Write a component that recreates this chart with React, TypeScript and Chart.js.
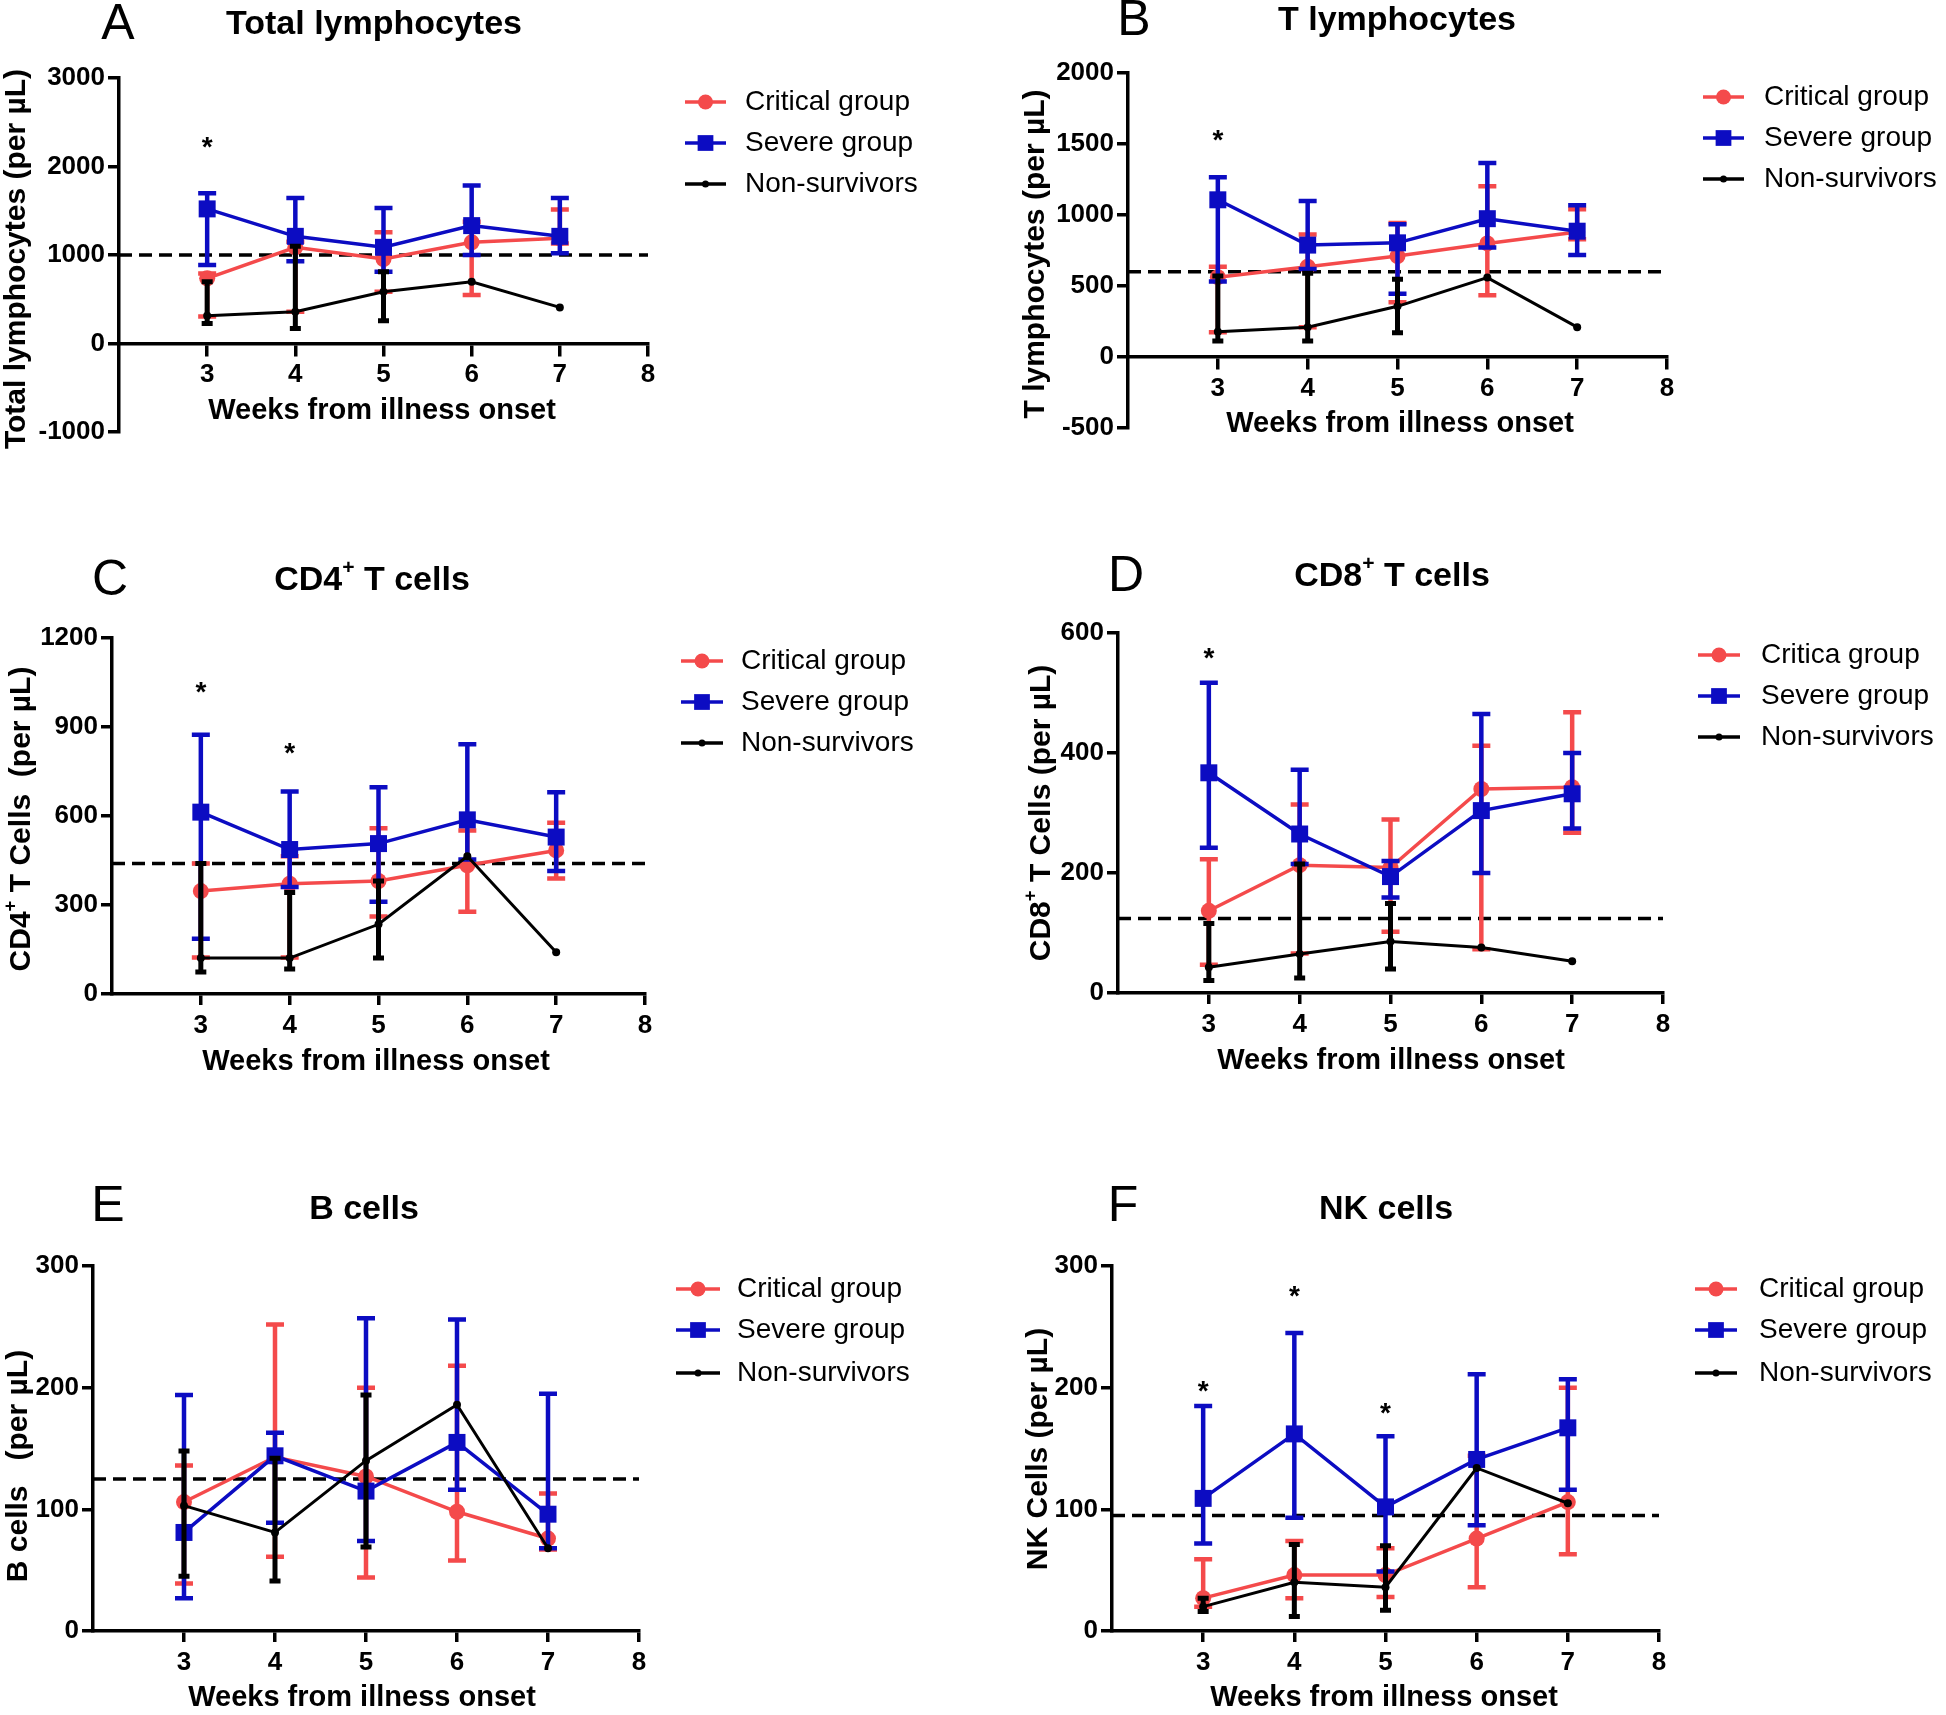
import React, { useEffect, useRef } from 'react';
import { Chart, registerables } from 'chart.js';
Chart.register(...registerables);

// ---------------- DATA ----------------
const weeks = [3, 4, 5, 6, 7];
const xTickValues = [3, 4, 5, 6, 7, 8];
const xRange = [2, 8];

// A: Total lymphocytes
const totalCritical = [736, 1087, 955, 1143, 1189];
const totalCriticalLow = [306, 358, 585, 547, 1130];
const totalCriticalHigh = [792, 1150, 1257, 1377, 1513];
const totalSevere = [1521, 1211, 1087, 1332, 1211];
const totalSevereLow = [887, 928, 811, 1000, 1019];
const totalSevereHigh = [1698, 1645, 1532, 1785, 1645];
const totalNonSurvivors = [313, 358, 585, 698, 408];
const totalNonSurvivorsLow = [226, 170, 257, null, null];
const totalNonSurvivorsHigh = [698, 1098, 811, null, null];
const totalReference = 1000;
const totalYTicks = [-1000, 0, 1000, 2000, 3000];
const totalStarWeeks = [3];
const totalStarValues = [2264];

// B: T lymphocytes
const tCritical = [562, 636, 711, 800, 881];
const tCriticalLow = [175, 210, 385, 434, 830];
const tCriticalHigh = [636, 862, 944, 1203, 1040];
const tSevere = [1107, 788, 804, 974, 886];
const tSevereLow = [531, 620, 445, 772, 718];
const tSevereHigh = [1266, 1098, 935, 1366, 1068];
const tNonSurvivors = [177, 210, 357, 559, 210];
const tNonSurvivorsLow = [112, 112, 170, null, null];
const tNonSurvivorsHigh = [571, 590, 548, null, null];
const tReference = 600;
const tYTicks = [-500, 0, 500, 1000, 1500, 2000];
const tStarWeeks = [3];
const tStarValues = [1557];

// C: CD4+ T cells
const cd4Critical = [347, 372, 381, 434, 484];
const cd4CriticalLow = [123, 123, 261, 277, 389];
const cd4CriticalHigh = [440, 464, 559, 551, 577];
const cd4Severe = [613, 487, 507, 587, 529];
const cd4SevereLow = [186, 361, 311, 453, 415];
const cd4SevereHigh = [874, 683, 697, 842, 680];
const cd4NonSurvivors = [121, 121, 235, 464, 141];
const cd4NonSurvivorsLow = [74, 84, 121, null, null];
const cd4NonSurvivorsHigh = [440, 342, 381, null, null];
const cd4Reference = 440;
const cd4YTicks = [0, 300, 600, 900, 1200];
const cd4StarWeeks = [3, 4];
const cd4StarValues = [1032, 825];

// D: CD8+ T cells
const cd8Critical = [137, 213, 209, 340, 343];
const cd8CriticalLow = [47, 66, 102, 73, 267];
const cd8CriticalHigh = [223, 314, 289, 412, 468];
const cd8Severe = [367, 265, 194, 304, 332];
const cd8SevereLow = [242, 215, 159, 200, 274];
const cd8SevereHigh = [517, 372, 220, 465, 400];
const cd8NonSurvivors = [43, 65, 86, 76, 53];
const cd8NonSurvivorsLow = [21, 25, 40, null, null];
const cd8NonSurvivorsHigh = [116, 215, 149, null, null];
const cd8Reference = 124;
const cd8YTicks = [0, 200, 400, 600];
const cd8StarWeeks = [3];
const cd8StarValues = [564];

// E: B cells
const bCritical = [106, 143, 127, 98, 76];
const bCriticalLow = [39, 61, 44, 58, 67];
const bCriticalHigh = [136, 252, 200, 218, 113];
const bSevere = [81, 144, 115, 155, 96];
const bSevereLow = [27, 89, 74, 116, 68];
const bSevereHigh = [194, 163, 257, 256, 195];
const bNonSurvivors = [103, 81, 140, 186, 68];
const bNonSurvivorsLow = [45, 41, 69, null, null];
const bNonSurvivorsHigh = [148, 142, 194, null, null];
const bReference = 125;
const bYTicks = [0, 100, 200, 300];
const bStarWeeks: number[] = [];
const bStarValues: number[] = [];

// F: NK cells
const nkCritical = [27, 46, 46, 76, 106];
const nkCriticalLow = [20, 27, 28, 36, 63];
const nkCriticalHigh = [59, 74, 68, 144, 200];
const nkSevere = [109, 162, 102, 141, 167];
const nkSevereLow = [72, 93, 49, 87, 116];
const nkSevereHigh = [185, 245, 160, 211, 207];
const nkNonSurvivors = [20, 40, 36, 134, 105];
const nkNonSurvivorsLow = [16, 12, 17, null, null];
const nkNonSurvivorsHigh = [27, 71, 70, null, null];
const nkReference = 95;
const nkYTicks = [0, 100, 200, 300];
const nkStarWeeks = [3, 4, 5];
const nkStarValues = [200, 278, 182];

const seriesLabels = ['Critical group', 'Severe group', 'Non-survivors'];
const seriesLabelsD = ['Critica group', 'Severe group', 'Non-survivors'];
const xAxisTitle = 'Weeks from illness onset';

// ---------------- STYLE ----------------
const RED = '#F44A4B';
const BLUE = '#0C0CC2';
const BLACK = '#000000';
const SANS = '"Liberation Sans", Arial, sans-serif';

type Seg = { t: string; sup?: boolean };
type Rect = { x: number; y: number; w: number; h: number };

interface PanelSpec {
  letter: string;
  title: Seg[];
  yTitle: Seg[];
  labels: string[];
  series: { mean: number[]; low: (number | null)[]; high: (number | null)[] }[];
  reference: number;
  yTicks: number[];
  starWeeks: number[];
  starValues: number[];
  box: Rect;
  area: { l: number; r: number; t: number; b: number };
  letterPos: [number, number];
  titlePos: [number, number];
  xTitlePos: [number, number];
  yTitlePos: [number, number];
  legend: { x1: number; x2: number; tx: number; rows: number[] };
}

const panels: PanelSpec[] = [
  {
    letter: 'A',
    title: [{ t: 'Total lymphocytes' }],
    yTitle: [{ t: 'Total lymphocytes (per µL)' }],
    labels: seriesLabels,
    series: [
      { mean: totalCritical, low: totalCriticalLow, high: totalCriticalHigh },
      { mean: totalSevere, low: totalSevereLow, high: totalSevereHigh },
      { mean: totalNonSurvivors, low: totalNonSurvivorsLow, high: totalNonSurvivorsHigh },
    ],
    reference: totalReference,
    yTicks: totalYTicks,
    starWeeks: totalStarWeeks,
    starValues: totalStarValues,
    box: { x: 0, y: 0, w: 973, h: 555 },
    area: { l: 119, r: 648, t: 78, b: 432 },
    letterPos: [118, 25],
    titlePos: [374, 25],
    xTitlePos: [382, 411],
    yTitlePos: [17, 259],
    legend: { x1: 685, x2: 726, tx: 745, rows: [102, 143, 184] },
  },
  {
    letter: 'B',
    title: [{ t: 'T lymphocytes' }],
    yTitle: [{ t: 'T lymphocytes (per µL)' }],
    labels: seriesLabels,
    series: [
      { mean: tCritical, low: tCriticalLow, high: tCriticalHigh },
      { mean: tSevere, low: tSevereLow, high: tSevereHigh },
      { mean: tNonSurvivors, low: tNonSurvivorsLow, high: tNonSurvivorsHigh },
    ],
    reference: tReference,
    yTicks: tYTicks,
    starWeeks: tStarWeeks,
    starValues: tStarValues,
    box: { x: 973, y: 0, w: 973, h: 555 },
    area: { l: 1128, r: 1667, t: 73, b: 428 },
    letterPos: [1134, 21],
    titlePos: [1397, 21],
    xTitlePos: [1400, 424],
    yTitlePos: [1036, 254],
    legend: { x1: 1703, x2: 1744, tx: 1764, rows: [97, 138, 179] },
  },
  {
    letter: 'C',
    title: [{ t: 'CD4' }, { t: '+', sup: true }, { t: ' T cells' }],
    yTitle: [{ t: 'CD4' }, { t: '+', sup: true }, { t: ' T Cells  (per µL)' }],
    labels: seriesLabels,
    series: [
      { mean: cd4Critical, low: cd4CriticalLow, high: cd4CriticalHigh },
      { mean: cd4Severe, low: cd4SevereLow, high: cd4SevereHigh },
      { mean: cd4NonSurvivors, low: cd4NonSurvivorsLow, high: cd4NonSurvivorsHigh },
    ],
    reference: cd4Reference,
    yTicks: cd4YTicks,
    starWeeks: cd4StarWeeks,
    starValues: cd4StarValues,
    box: { x: 0, y: 555, w: 973, h: 585 },
    area: { l: 112, r: 645, t: 638, b: 994 },
    letterPos: [110, 581],
    titlePos: [372, 581],
    xTitlePos: [376, 1062],
    yTitlePos: [22, 819],
    legend: { x1: 681, x2: 723, tx: 741, rows: [661, 702, 743] },
  },
  {
    letter: 'D',
    title: [{ t: 'CD8' }, { t: '+', sup: true }, { t: ' T cells' }],
    yTitle: [{ t: 'CD8' }, { t: '+', sup: true }, { t: ' T Cells (per µL)' }],
    labels: seriesLabelsD,
    series: [
      { mean: cd8Critical, low: cd8CriticalLow, high: cd8CriticalHigh },
      { mean: cd8Severe, low: cd8SevereLow, high: cd8SevereHigh },
      { mean: cd8NonSurvivors, low: cd8NonSurvivorsLow, high: cd8NonSurvivorsHigh },
    ],
    reference: cd8Reference,
    yTicks: cd8YTicks,
    starWeeks: cd8StarWeeks,
    starValues: cd8StarValues,
    box: { x: 973, y: 555, w: 973, h: 585 },
    area: { l: 1118, r: 1663, t: 633, b: 993 },
    letterPos: [1126, 577],
    titlePos: [1392, 577],
    xTitlePos: [1391, 1061],
    yTitlePos: [1042, 813],
    legend: { x1: 1698, x2: 1740, tx: 1761, rows: [655, 696, 737] },
  },
  {
    letter: 'E',
    title: [{ t: 'B cells' }],
    yTitle: [{ t: 'B cells   (per µL)' }],
    labels: seriesLabels,
    series: [
      { mean: bCritical, low: bCriticalLow, high: bCriticalHigh },
      { mean: bSevere, low: bSevereLow, high: bSevereHigh },
      { mean: bNonSurvivors, low: bNonSurvivorsLow, high: bNonSurvivorsHigh },
    ],
    reference: bReference,
    yTicks: bYTicks,
    starWeeks: bStarWeeks,
    starValues: bStarValues,
    box: { x: 0, y: 1140, w: 973, h: 575 },
    area: { l: 93, r: 639, t: 1266, b: 1631 },
    letterPos: [108, 1207],
    titlePos: [364, 1210],
    xTitlePos: [362, 1698],
    yTitlePos: [19, 1466],
    legend: { x1: 676, x2: 720, tx: 737, rows: [1289, 1330, 1373] },
  },
  {
    letter: 'F',
    title: [{ t: 'NK cells' }],
    yTitle: [{ t: 'NK Cells (per µL)' }],
    labels: seriesLabels,
    series: [
      { mean: nkCritical, low: nkCriticalLow, high: nkCriticalHigh },
      { mean: nkSevere, low: nkSevereLow, high: nkSevereHigh },
      { mean: nkNonSurvivors, low: nkNonSurvivorsLow, high: nkNonSurvivorsHigh },
    ],
    reference: nkReference,
    yTicks: nkYTicks,
    starWeeks: nkStarWeeks,
    starValues: nkStarValues,
    box: { x: 973, y: 1140, w: 973, h: 575 },
    area: { l: 1112, r: 1659, t: 1266, b: 1631 },
    letterPos: [1123, 1207],
    titlePos: [1386, 1210],
    xTitlePos: [1384, 1698],
    yTitlePos: [1039, 1449],
    legend: { x1: 1695, x2: 1737, tx: 1759, rows: [1289, 1330, 1373] },
  },
];

const seriesStyles = [
  { color: RED, pointStyle: 'circle', radius: 8, lineWidth: 3.5, errWidth: 4.5, cap: 9, legendR: 7.5, order: 3 },
  { color: BLUE, pointStyle: 'rect', radius: 12, lineWidth: 3.5, errWidth: 4.5, cap: 9, legendR: 10.5, order: 2 },
  { color: BLACK, pointStyle: 'circle', radius: 4, lineWidth: 3, errWidth: 5, cap: 5.5, legendR: 3.5, order: 1 },
];

// ---------------- HELPERS ----------------
function segWidth(ctx: CanvasRenderingContext2D, segs: Seg[], font: (s: number) => string, size: number) {
  let w = 0;
  for (const s of segs) {
    ctx.font = font(s.sup ? size * 0.62 : size);
    w += ctx.measureText(s.t).width;
  }
  return w;
}

function drawSegs(ctx: CanvasRenderingContext2D, segs: Seg[], font: (s: number) => string, size: number, cx: number, cy: number) {
  const total = segWidth(ctx, segs, font, size);
  let x = cx - total / 2;
  ctx.textAlign = 'left';
  ctx.textBaseline = 'middle';
  for (const s of segs) {
    const sz = s.sup ? size * 0.62 : size;
    ctx.font = font(sz);
    ctx.fillText(s.t, x, s.sup ? cy - size * 0.38 : cy);
    x += ctx.measureText(s.t).width;
  }
}

function drawMarker(ctx: CanvasRenderingContext2D, style: string, x: number, y: number, r: number) {
  ctx.beginPath();
  if (style === 'rect') {
    ctx.rect(x - r * 0.75, y - r * 0.75, r * 1.5, r * 1.5);
  } else {
    ctx.arc(x, y, r, 0, Math.PI * 2);
  }
  ctx.fill();
}

function Panel({ spec }: { spec: PanelSpec }) {
  const ref = useRef<HTMLCanvasElement | null>(null);

  useEffect(() => {
    const canvas = ref.current;
    if (!canvas) return;
    const { box, area } = spec;
    const ox = box.x;
    const oy = box.y;
    const hasNegative = spec.yTicks[0] < 0;

    const datasets: any[] = spec.series.map((s, i) => {
      const st = seriesStyles[i];
      return {
        label: spec.labels[i],
        data: weeks.map((w, k) => ({ x: w, y: s.mean[k] })),
        errLow: s.low,
        errHigh: s.high,
        borderColor: st.color,
        backgroundColor: st.color,
        pointBackgroundColor: st.color,
        pointBorderColor: st.color,
        pointStyle: st.pointStyle,
        pointRadius: st.radius,
        pointBorderWidth: 0,
        borderWidth: st.lineWidth,
        tension: 0,
        order: st.order,
        clip: false,
        styleIndex: i,
      };
    });
    datasets.push({
      label: 'reference',
      data: [
        { x: xRange[0], y: spec.reference },
        { x: xRange[1], y: spec.reference },
      ],
      borderColor: BLACK,
      borderWidth: 3.5,
      borderDash: [13, 7],
      pointRadius: 0,
      order: 4,
      isRef: true,
    });

    const annotate = {
      id: 'annotate' + spec.letter,
      beforeDatasetDraw(chart: any, args: any) {
        const ds = chart.data.datasets[args.index];
        if (ds.isRef || !ds.errLow) return;
        const st = seriesStyles[ds.styleIndex];
        const ctx = chart.ctx as CanvasRenderingContext2D;
        const xs = chart.scales.x;
        const ys = chart.scales.y;
        ctx.save();
        ctx.strokeStyle = st.color;
        ctx.lineWidth = st.errWidth;
        ctx.lineCap = 'butt';
        weeks.forEach((w, k) => {
          const lo = ds.errLow[k];
          const hi = ds.errHigh[k];
          if (lo == null && hi == null) return;
          const px = xs.getPixelForValue(w);
          const pm = ys.getPixelForValue(spec.series[ds.styleIndex].mean[k]);
          const pl = lo == null ? pm : ys.getPixelForValue(lo);
          const ph = hi == null ? pm : ys.getPixelForValue(hi);
          ctx.beginPath();
          ctx.moveTo(px, pl);
          ctx.lineTo(px, ph);
          ctx.stroke();
          ctx.beginPath();
          if (lo != null) {
            ctx.moveTo(px - st.cap, pl);
            ctx.lineTo(px + st.cap, pl);
          }
          if (hi != null) {
            ctx.moveTo(px - st.cap, ph);
            ctx.lineTo(px + st.cap, ph);
          }
          ctx.stroke();
        });
        ctx.restore();
      },
      afterDraw(chart: any) {
        const ctx = chart.ctx as CanvasRenderingContext2D;
        const xs = chart.scales.x;
        const ys = chart.scales.y;
        ctx.save();
        ctx.fillStyle = BLACK;
        // panel letter
        ctx.font = `50px ${SANS}`;
        ctx.textAlign = 'center';
        ctx.textBaseline = 'middle';
        ctx.fillText(spec.letter, spec.letterPos[0] - ox, spec.letterPos[1] - oy);
        // title
        drawSegs(ctx, spec.title, (s) => `bold ${s}px ${SANS}`, 34, spec.titlePos[0] - ox, spec.titlePos[1] - oy);
        // x title
        drawSegs(ctx, [{ t: xAxisTitle }], (s) => `bold ${s}px ${SANS}`, 29, spec.xTitlePos[0] - ox, spec.xTitlePos[1] - oy);
        // y title
        ctx.save();
        ctx.translate(spec.yTitlePos[0] - ox, spec.yTitlePos[1] - oy);
        ctx.rotate(-Math.PI / 2);
        drawSegs(ctx, spec.yTitle, (s) => `bold ${s}px ${SANS}`, 30, 0, 0);
        ctx.restore();
        // stars
        ctx.font = `bold 28px ${SANS}`;
        ctx.textAlign = 'center';
        ctx.textBaseline = 'middle';
        spec.starWeeks.forEach((w, k) => {
          ctx.fillText('*', xs.getPixelForValue(w), ys.getPixelForValue(spec.starValues[k]) + 5);
        });
        // legend
        const lg = spec.legend;
        spec.series.forEach((_, i) => {
          const st = seriesStyles[i];
          const y = lg.rows[i] - oy;
          ctx.strokeStyle = st.color;
          ctx.fillStyle = st.color;
          ctx.lineWidth = 3.5;
          ctx.beginPath();
          ctx.moveTo(lg.x1 - ox, y);
          ctx.lineTo(lg.x2 - ox, y);
          ctx.stroke();
          drawMarker(ctx, st.pointStyle, (lg.x1 + lg.x2) / 2 - ox, y, st.legendR);
          ctx.fillStyle = BLACK;
          ctx.font = `28px ${SANS}`;
          ctx.textAlign = 'left';
          ctx.textBaseline = 'middle';
          ctx.fillText(spec.labels[i], lg.tx - ox, y);
        });
        ctx.restore();
      },
    };

    const tickFont = { family: SANS, size: 26, weight: 'bold' as const };
    const plainNumber = (v: any) => `${v}`;
    const xHeight = hasNegative ? 0 : box.y + box.h - area.b;
    const chart = new Chart(canvas, {
      type: 'line',
      data: { datasets },
      options: {
        responsive: false,
        animation: false,
        devicePixelRatio: 1,
        layout: {
          padding: {
            left: 0,
            top: area.t - box.y,
            right: box.x + box.w - area.r,
            bottom: hasNegative ? box.y + box.h - area.b : 0,
          },
        },
        plugins: {
          legend: { display: false },
          tooltip: { enabled: false },
          title: { display: false },
        },
        scales: {
          x: {
            type: 'linear',
            min: xRange[0],
            max: xRange[1],
            position: hasNegative ? ({ y: 0 } as any) : 'bottom',
            afterBuildTicks: (s: any) => {
              s.ticks = xTickValues.map((v) => ({ value: v }));
            },
            afterFit: (s: any) => {
              s.height = xHeight;
            },
            ticks: { color: BLACK, font: tickFont, padding: 5, autoSkip: false, maxRotation: 0, callback: plainNumber },
            grid: { display: true, drawOnChartArea: false, drawTicks: true, tickLength: 11, color: BLACK, lineWidth: 3.5 },
            border: { display: true, color: BLACK, width: 3.5 },
          },
          y: {
            type: 'linear',
            min: spec.yTicks[0],
            max: spec.yTicks[spec.yTicks.length - 1],
            afterBuildTicks: (s: any) => {
              s.ticks = spec.yTicks.map((v) => ({ value: v }));
            },
            afterFit: (s: any) => {
              s.width = area.l - box.x;
            },
            ticks: { color: BLACK, font: tickFont, padding: 3, autoSkip: false, callback: plainNumber },
            grid: { display: true, drawOnChartArea: false, drawTicks: true, tickLength: 11, color: BLACK, lineWidth: 3.5 },
            border: { display: true, color: BLACK, width: 3.5 },
          },
        },
      } as any,
      plugins: [annotate],
    });
    return () => chart.destroy();
  }, [spec]);

  return (
    <canvas
      ref={ref}
      width={spec.box.w}
      height={spec.box.h}
      style={{ position: 'absolute', left: spec.box.x, top: spec.box.y, width: spec.box.w, height: spec.box.h }}
    />
  );
}

export default function App() {
  return (
    <div style={{ position: 'absolute', left: 0, top: 0, width: 1946, height: 1715, background: '#fff' }}>
      {panels.map((p) => (
        <Panel key={p.letter} spec={p} />
      ))}
    </div>
  );
}
